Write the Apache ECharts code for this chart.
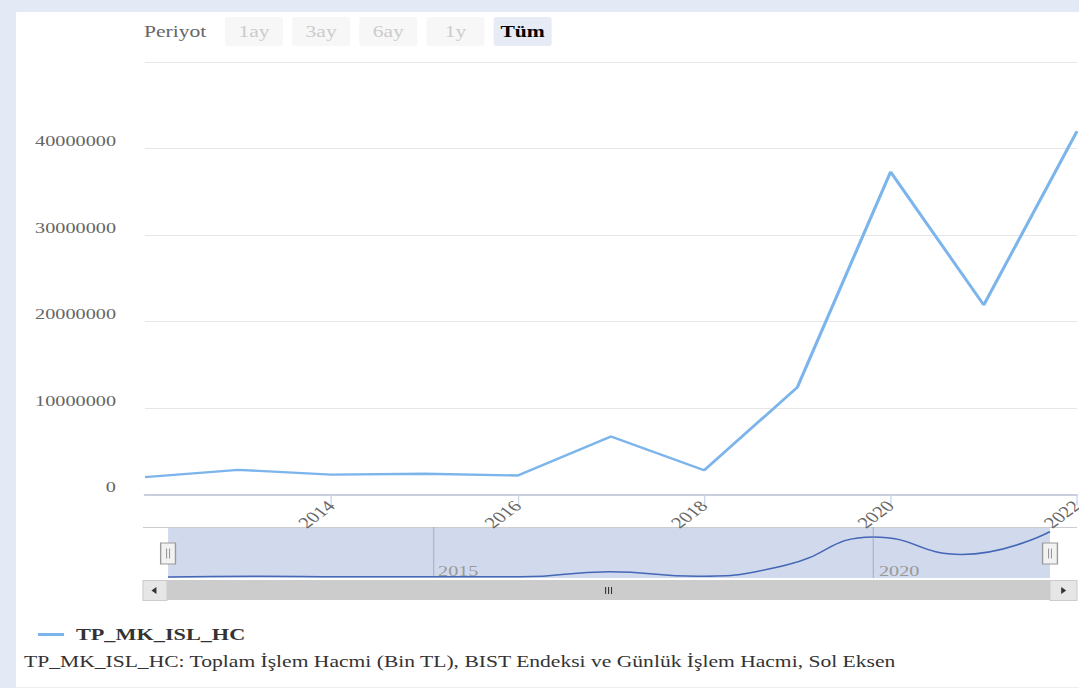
<!DOCTYPE html>
<html>
<head>
<meta charset="utf-8">
<title>TP_MK_ISL_HC</title>
<script src="https://cdn.jsdelivr.net/npm/echarts@6/dist/echarts.min.js"></script>
<style>
  html, body { margin: 0; padding: 0; background: #ffffff; overflow: hidden; }
  /* The chart is laid out on an 800px canvas and widened to the 1079px page */
  #chart { width: 800px; height: 688px; transform: scaleX(1.34875); transform-origin: 0 0; }
</style>
</head>
<body>
<div id="chart"></div>
<script>
// Yearly total trading volume (thousand TL)
const years = [2012, 2013, 2014, 2015, 2016, 2017, 2018, 2019, 2020, 2021, 2022];
const volume = [2010000, 2850000, 2300000, 2400000, 2200000, 6700000, 2800000, 12400000, 37300000, 21900000, 42000000];

// Axis tick labels
const mainYearTicks = [2014, 2016, 2018, 2020, 2022];
const navigatorYearTicks = [2015, 2020];
const periodButtons = ['1ay', '3ay', '6ay', '1y', 'Tüm'];

const seriesName = 'TP_MK_ISL_HC';
const footnote = 'TP_MK_ISL_HC: Toplam İşlem Hacmi (Bin TL), BIST Endeksi ve Günlük İşlem Hacmi, Sol Eksen';

const SERIF = '"Liberation Serif", "Times New Roman", serif';
const points = years.map((y, i) => [y, volume[i]]);

// Period selector row (last button is the active one)
const selectorItems = [{
  type: 'text', x: 106.8, y: 31.5,
  style: { text: 'Periyot', verticalAlign: 'middle', fill: '#666666', font: '16px ' + SERIF }
}];
periodButtons.forEach((label, i) => {
  const active = i === periodButtons.length - 1;
  const x = 166.8 + i * 49.8;
  selectorItems.push({
    type: 'rect', shape: { x: x, y: 17, width: 43, height: 29, r: 2 },
    style: { fill: active ? '#e6ebf5' : '#f7f7f7' }
  });
  selectorItems.push({
    type: 'text', x: x + 21.5, y: 31.5,
    style: {
      text: label, align: 'center', verticalAlign: 'middle',
      fill: active ? '#000000' : '#cccccc',
      font: (active ? 'bold ' : '') + '16px ' + SERIF
    }
  });
});

// Navigator handles
function handle(cx) {
  return {
    type: 'group', x: cx, y: 553.5, z: 20,
    children: [
      { type: 'rect', shape: { x: -5.5, y: -10.5, width: 11, height: 21 },
        style: { fill: '#f2f2f2', stroke: '#999999', lineWidth: 1 } },
      { type: 'line', shape: { x1: -1.1, y1: -5, x2: -1.1, y2: 5 }, style: { stroke: '#999999', lineWidth: 0.8 } },
      { type: 'line', shape: { x1: 1.1, y1: -5, x2: 1.1, y2: 5 }, style: { stroke: '#999999', lineWidth: 0.8 } }
    ]
  };
}

// Scrollbar under the navigator
const scrollbar = [
  { type: 'rect', shape: { x: 106, y: 580, width: 692.5, height: 20 }, style: { fill: '#f2f2f2' } },
  { type: 'rect', shape: { x: 123.8, y: 580, width: 654.7, height: 20 }, style: { fill: '#cccccc' } },
  { type: 'rect', shape: { x: 106, y: 580.5, width: 17.8, height: 20 }, style: { fill: '#e6e6e6', stroke: '#cccccc', lineWidth: 0.8 } },
  { type: 'rect', shape: { x: 778.5, y: 580.5, width: 20, height: 20 }, style: { fill: '#e6e6e6', stroke: '#cccccc', lineWidth: 0.8 } },
  { type: 'polygon', shape: { points: [[112.3, 590.5], [116, 587], [116, 594]] }, style: { fill: '#333333' } },
  { type: 'polygon', shape: { points: [[790.5, 590.5], [786.8, 587], [786.8, 594]] }, style: { fill: '#333333' } },
  { type: 'line', shape: { x1: 449, y1: 587, x2: 449, y2: 594 }, style: { stroke: '#333333', lineWidth: 0.8 } },
  { type: 'line', shape: { x1: 451.2, y1: 587, x2: 451.2, y2: 594 }, style: { stroke: '#333333', lineWidth: 0.8 } },
  { type: 'line', shape: { x1: 453.4, y1: 587, x2: 453.4, y2: 594 }, style: { stroke: '#333333', lineWidth: 0.8 } }
];

const chart = echarts.init(document.getElementById('chart'), null, { renderer: 'svg', width: 800, height: 688 });

chart.setOption({
  animation: false,
  backgroundColor: '#ffffff',
  title: {
    text: footnote, left: 17.8, top: 654, padding: 0,
    textStyle: { fontFamily: SERIF, fontSize: 16, fontWeight: 'normal', color: '#333333' }
  },
  legend: {
    left: 23.2, top: 621,
    icon: 'rect', itemWidth: 19.3, itemHeight: 3,
    data: [seriesName],
    textStyle: { fontFamily: SERIF, fontSize: 16.5, fontWeight: 'bold', color: '#333333', padding: [0, 0, 0, 3.8] }
  },
  grid: [
    { left: 107.5, right: 1.5, top: 62, bottom: 193.5, outerBoundsMode: 'none' },
    { left: 124.6, right: 21.5, top: 527, bottom: 110, outerBoundsMode: 'none',
      show: true, borderWidth: 0, backgroundColor: 'rgba(102,133,194,0.3)' }
  ],
  xAxis: [
    {
      type: 'value', gridIndex: 0, min: 2012, max: 2022,
      axisLine: { lineStyle: { color: '#c9cfdc', width: 2 } },
      axisTick: { customValues: mainYearTicks, length: 11, lineStyle: { color: '#ccd6eb' } },
      axisLabel: {
        customValues: mainYearTicks, rotate: 45, margin: 9,
        color: '#666666', fontFamily: SERIF, fontSize: 15.5,
        formatter: v => String(v)
      },
      splitLine: { show: false }
    },
    {
      type: 'value', gridIndex: 1, min: 2012, max: 2022,
      axisLine: { show: false }, axisTick: { show: false }, splitLine: { show: false },
      axisLabel: {
        customValues: navigatorYearTicks, inside: true, margin: 0,
        align: 'left', verticalAlign: 'bottom', padding: [0, 0, 0, 4],
        color: '#999999', fontFamily: SERIF, fontSize: 15,
        formatter: v => String(v)
      }
    }
  ],
  yAxis: [
    {
      type: 'value', gridIndex: 0, min: 0, max: 50000000, interval: 10000000,
      axisLine: { show: false }, axisTick: { show: false },
      axisLabel: {
        showMaxLabel: false, margin: 21.5, verticalAlign: 'bottom',
        color: '#666666', fontFamily: SERIF, fontSize: 15,
        formatter: v => String(v)
      },
      splitLine: { lineStyle: { color: '#e6e6e6', width: 1 } }
    },
    {
      type: 'value', gridIndex: 1, show: false,
      min: v => v.min - (v.max - v.min) * 0.02,
      max: v => v.max + (v.max - v.min) * 0.1,
      splitLine: { show: false }
    }
  ],
  series: [
    {
      name: seriesName, type: 'line', xAxisIndex: 0, yAxisIndex: 0,
      data: points, showSymbol: false, symbol: 'none',
      lineStyle: { color: '#7cb5ec', width: 2.4 }, itemStyle: { color: '#7cb5ec' }
    },
    {
      name: 'navigator', type: 'line', xAxisIndex: 1, yAxisIndex: 1,
      data: points, smooth: true, showSymbol: false, symbol: 'none', silent: true,
      lineStyle: { color: '#4467b6', width: 1.5 },
      markLine: {
        silent: true, symbol: ['none', 'none'], label: { show: false },
        lineStyle: { color: 'rgba(130,140,165,0.45)', type: 'solid', width: 1 },
        data: navigatorYearTicks.map(y => ({ xAxis: y }))
      }
    }
  ],
  graphic: [
    { type: 'rect', shape: { x: 0, y: 0, width: 800, height: 12 }, style: { fill: '#e4eaf5' } },
    { type: 'rect', shape: { x: 0, y: 0, width: 11.9, height: 688 }, style: { fill: '#e4eaf5' } },
    { type: 'line', shape: { x1: 11.9, y1: 687.5, x2: 800, y2: 687.5 }, style: { stroke: '#eeeeee', lineWidth: 1 } },
    { type: 'line', shape: { x1: 106, y1: 527.5, x2: 798.5, y2: 527.5 }, style: { stroke: '#cccccc', lineWidth: 1 } },
    { type: 'group', children: selectorItems },
    { type: 'group', children: scrollbar },
    handle(124.6),
    handle(778.5)
  ]
});
</script>
</body>
</html>
